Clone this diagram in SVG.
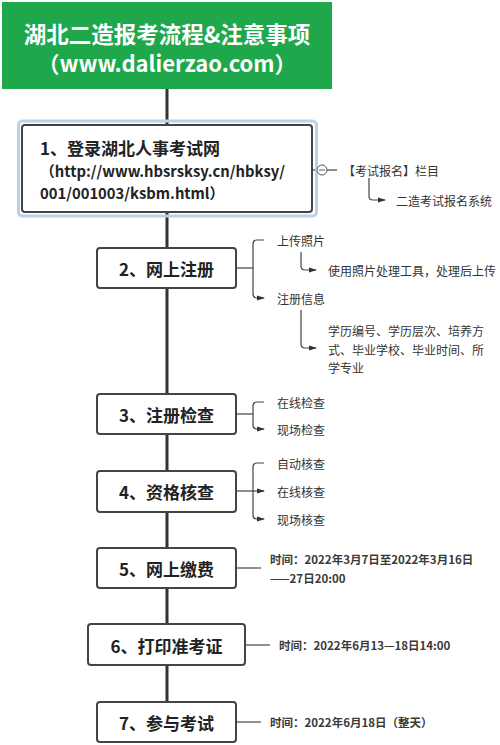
<svg xmlns="http://www.w3.org/2000/svg" width="500" height="745" viewBox="0 0 500 745">
<defs>
<marker id="ar" viewBox="0 0 8 8" refX="7" refY="4" markerWidth="8" markerHeight="8" markerUnits="userSpaceOnUse" orient="auto">
<path d="M0,1.5 L8,4 L0,6.5 Z" fill="#333"/>
</marker>
</defs>
<style>
.box{fill:#fff;stroke:#444;stroke-width:2}
.bt{font-family:"Noto Sans CJK SC","Liberation Sans",sans-serif;font-weight:bold;font-size:17px;fill:#222;text-anchor:middle;dominant-baseline:central}
.st{font-family:"Noto Sans CJK SC","Liberation Sans",sans-serif;font-size:12px;fill:#333;dominant-baseline:central}
.tt{font-family:"Noto Sans CJK SC","Liberation Sans",sans-serif;font-size:11.5px;font-weight:bold;fill:#3a3a3a;dominant-baseline:central}
.spine{stroke:#333;stroke-width:3;fill:none}
.ln{stroke:#444;stroke-width:1.2;fill:none}
.la{stroke:#444;stroke-width:1.2;fill:none;marker-end:url(#ar)}
</style>
<rect width="500" height="745" fill="#fff"/>
<g id="connectors">
<line class="spine" x1="167" y1="89" x2="167" y2="742"/>
<line class="ln" x1="312" y1="170" x2="317" y2="170"/>
<line class="ln" x1="327" y1="170" x2="337" y2="170"/>
<path class="la" d="M369,178 V196 Q369,200 373,200 H385"/>
<path class="ln" d="M236,268 H253"/>
<path class="la" d="M264,240 H257 Q253,240 253,244 V294 Q253,298 257,298 H264"/>
<path class="la" d="M301,252 V266 Q301,270 305,270 H316"/>
<path class="la" d="M301,310 V344 Q301,348 305,348 H316"/>
<path class="ln" d="M236,414 H253"/>
<path class="la" d="M264,402 H257 Q253,402 253,406 V425 Q253,429 257,429 H264"/>
<path class="ln" d="M236,491 H253"/>
<path class="la" d="M264,463 H257 Q253,463 253,467 V515 Q253,519 257,519 H264"/>
<path class="la" d="M253,491 H264"/>
<line class="ln" x1="236" y1="568" x2="261" y2="568"/>
<line class="ln" x1="245" y1="645" x2="270" y2="645"/>
<line class="ln" x1="236" y1="722" x2="261" y2="722"/>
</g>
<g id="title">
<rect x="2" y="2" width="330" height="87" fill="#1ea84b"/>
<text x="167" y="33" font-family="'Noto Sans CJK SC','Liberation Sans',sans-serif" font-size="22.5" font-weight="bold" fill="#fff" text-anchor="middle" dominant-baseline="central">湖北二造报考流程&amp;注意事项</text>
<text x="167" y="62" font-family="'Noto Sans CJK SC','Liberation Sans',sans-serif" font-size="22" font-weight="bold" fill="#fff" text-anchor="middle" dominant-baseline="central">（www.dalierzao.com）</text>
</g>
<g id="n1">
<rect x="18.5" y="121" width="298" height="95" rx="4" fill="none" stroke="#b8d2ea" stroke-width="3"/>
<rect class="box" x="22" y="125" width="290" height="87" rx="3"/>
<text class="bt" x="40" y="147" style="text-anchor:start">1、登录湖北人事考试网</text>
<text class="bt" x="40" y="170" style="text-anchor:start;font-size:14.8px">（http://www.hbsrsksy.cn/hbksy/</text>
<text class="bt" x="40" y="192" style="text-anchor:start;font-size:14.8px">001/001003/ksbm.html）</text>
<circle cx="322" cy="170" r="5" fill="#fff" stroke="#555" stroke-width="1"/>
<line x1="319" y1="170" x2="325" y2="170" stroke="#555" stroke-width="1"/>
</g>
<g id="n1a"><text class="st" x="343" y="170">【考试报名】栏目</text></g>
<g id="n1b"><text class="st" x="396" y="200">二造考试报名系统</text></g>
<g id="n2">
<rect class="box" x="97" y="248" width="139" height="40" rx="3"/>
<text class="bt" x="166.5" y="268">2、网上注册</text>
</g>
<g id="n2a"><text class="st" x="277" y="240">上传照片</text></g>
<g id="n2a1"><text class="st" x="328" y="270">使用照片处理工具，处理后上传</text></g>
<g id="n2b"><text class="st" x="277" y="298">注册信息</text></g>
<g id="n2b1">
<text class="st" x="328" y="330">学历编号、学历层次、培养方</text>
<text class="st" x="328" y="349">式、毕业学校、毕业时间、所</text>
<text class="st" x="328" y="367">学专业</text>
</g>
<g id="n3">
<rect class="box" x="97" y="394" width="139" height="40" rx="3"/>
<text class="bt" x="166.5" y="414">3、注册检查</text>
</g>
<g id="n3a"><text class="st" x="277" y="402">在线检查</text></g>
<g id="n3b"><text class="st" x="277" y="429">现场检查</text></g>
<g id="n4">
<rect class="box" x="97" y="471" width="139" height="41" rx="3"/>
<text class="bt" x="166.5" y="491">4、资格核查</text>
</g>
<g id="n4a"><text class="st" x="277" y="463">自动核查</text></g>
<g id="n4b"><text class="st" x="277" y="491">在线核查</text></g>
<g id="n4c"><text class="st" x="277" y="519">现场核查</text></g>
<g id="n5">
<rect class="box" x="97" y="548" width="139" height="40" rx="3"/>
<text class="bt" x="166.5" y="568">5、网上缴费</text>
</g>
<g id="n5a">
<text class="tt" x="270" y="559">时间：2022年3月7日至2022年3月16日</text>
<text class="tt" x="270" y="578">——27日20:00</text>
</g>
<g id="n6">
<rect class="box" x="88" y="624" width="157" height="41" rx="3"/>
<text class="bt" x="166.5" y="645">6、打印准考证</text>
</g>
<g id="n6a"><text class="tt" x="279" y="645">时间：2022年6月13—18日14:00</text></g>
<g id="n7">
<rect class="box" x="97" y="702" width="139" height="40" rx="3"/>
<text class="bt" x="166.5" y="722">7、参与考试</text>
</g>
<g id="n7a"><text class="tt" x="270" y="722">时间：2022年6月18日（整天）</text></g>
</svg>
